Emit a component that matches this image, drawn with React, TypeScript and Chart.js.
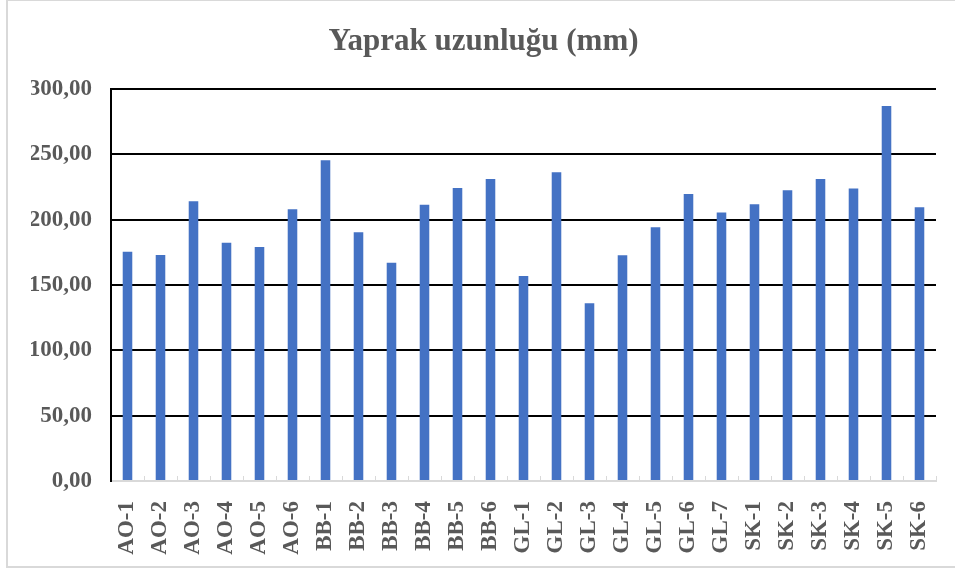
import React, { useEffect, useRef } from "react";
import { Chart, registerables } from "chart.js";

Chart.register(...registerables);

const categories = [
  "AO-1", "AO-2", "AO-3", "AO-4", "AO-5", "AO-6",
  "BB-1", "BB-2", "BB-3", "BB-4", "BB-5", "BB-6",
  "GL-1", "GL-2", "GL-3", "GL-4", "GL-5", "GL-6", "GL-7",
  "SK-1", "SK-2", "SK-3", "SK-4", "SK-5", "SK-6",
];

const leafLength = [
  175.6, 173.1, 214.2, 182.5, 179.2, 208.1,
  245.6, 190.5, 167.2, 211.6, 224.4, 231.3,
  157.0, 236.4, 136.1, 172.8, 194.3, 219.8, 205.5,
  211.9, 222.6, 231.3, 223.9, 287.2, 209.6,
];

const titleText = "Yaprak uzunluğu (mm)";
const yMin = 0;
const yMax = 300;
const yStep = 50;

const FONT = "'Liberation Serif', 'Times New Roman', serif";
const TEXT = "#595959";

export default function App() {
  const ref = useRef<HTMLCanvasElement | null>(null);

  useEffect(() => {
    if (!ref.current) return;
    const chart = new Chart(ref.current, {
      type: "bar",
      data: {
        labels: categories,
        datasets: [
          {
            label: titleText,
            data: leafLength,
            backgroundColor: "#4472C4",
            borderWidth: 0,
            categoryPercentage: 1,
            barPercentage: 0.29,
          },
        ],
      },
      options: {
        animation: false,
        responsive: false,
        maintainAspectRatio: false,
        layout: { padding: { left: 31, right: 19, top: 0, bottom: 0 } },
        plugins: {
          legend: { display: false },
          tooltip: { enabled: false },
          title: {
            display: true,
            text: titleText,
            color: TEXT,
            font: { family: FONT, size: 31, weight: "bold" },
            padding: { top: 23, bottom: 29 },
          },
        },
        scales: {
          x: {
            afterFit: (scale: any) => {
              scale.height = 93;
              scale.paddingLeft = 0;
              scale.paddingRight = 0;
            },
            grid: {
              drawOnChartArea: false,
              drawTicks: true,
              tickLength: -5,
              color: "#d9d9d9",
              lineWidth: 1,
            },
            border: { display: true, color: "#d9d9d9", width: 2 },
            ticks: {
              autoSkip: false,
              minRotation: 90,
              maxRotation: 90,
              padding: 25,
              color: TEXT,
              font: { family: FONT, size: 23, weight: "bold" },
            },
          },
          y: {
            min: yMin,
            max: yMax,
            afterFit: (scale: any) => {
              scale.width = 80;
            },
            grid: {
              drawTicks: false,
              lineWidth: 2,
              color: (ctx: any) =>
                ctx.tick && ctx.tick.value === 0 ? "rgba(0,0,0,0)" : "#000000",
            },
            border: { display: true, color: "#000000", width: 2 },
            ticks: {
              stepSize: yStep,
              padding: 19,
              color: TEXT,
              font: { family: FONT, size: 23, weight: "bold" },
              callback: (v: any) =>
                Number(v).toFixed(2).replace(".", ","),
            },
          },
        },
      },
    });
    return () => chart.destroy();
  }, []);

  return (
    <div
      style={{
        position: "absolute",
        left: 0,
        top: 0,
        width: 955,
        height: 574,
        overflow: "hidden",
        background: "#ffffff",
      }}
    >
      <div
        style={{
          position: "absolute",
          left: 6,
          top: -1,
          width: 1000,
          height: 569,
          border: "2px solid #d9d9d9",
          boxSizing: "border-box",
        }}
      />
      <canvas
        ref={ref}
        width={955}
        height={574}
        style={{ position: "absolute", left: 0, top: 0, width: 955, height: 574 }}
      />
    </div>
  );
}
